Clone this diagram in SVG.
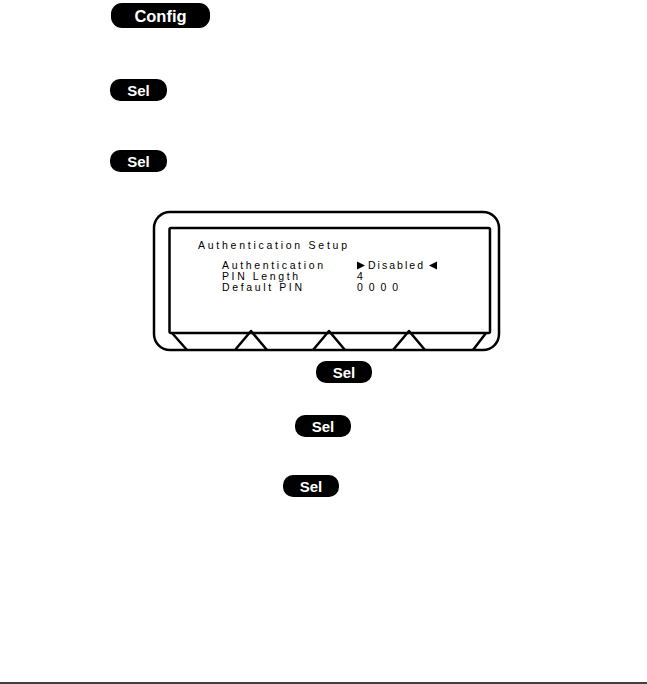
<svg xmlns="http://www.w3.org/2000/svg" width="647" height="684" viewBox="0 0 647 684">
<style>
.btn{fill:#000}
.bt{fill:#fff;font-family:"Liberation Sans",Arial,sans-serif;font-weight:bold;text-anchor:middle}
.ln{fill:none;stroke:#000;stroke-width:2.5;stroke-linejoin:round}
.tx{fill:#000;font-family:"Liberation Sans",Arial,sans-serif;font-size:10.5px}
</style>
<rect width="647" height="684" fill="#fff"/>
<g id="btn-config"><rect class="btn" x="111" y="3" width="99" height="25" rx="11"/><text class="bt" x="160.5" y="21.5" font-size="16.5">Config</text></g>
<g id="btn-sel1"><rect class="btn" x="110" y="79" width="57" height="22" rx="10"/><text class="bt" x="138.5" y="95.5" font-size="15">Sel</text></g>
<g id="btn-sel2"><rect class="btn" x="110" y="150" width="57" height="22" rx="10"/><text class="bt" x="138.5" y="166.5" font-size="15">Sel</text></g>
<g id="screen">
<rect class="ln" x="154" y="212" width="345" height="138" rx="16"/>
<rect class="ln" x="169.5" y="228" width="320.5" height="105" rx="1.5"/>
<path class="ln" d="M172,333 L187,350 M486,333 L473,350 M235,350 L251,331 L267,350 M313,350 L329,331 L345,350 M393,350 L409,331 L425,350"/>
<text class="tx" x="198" y="249" textLength="149" lengthAdjust="spacing">Authentication Setup</text>
<text class="tx" x="222" y="269" textLength="101" lengthAdjust="spacing">Authentication</text>
<text class="tx" x="222" y="280" textLength="76" lengthAdjust="spacing">PIN Length</text>
<text class="tx" x="222" y="291" textLength="80" lengthAdjust="spacing">Default PIN</text>
<path d="M357,261.5 L365,265.5 L357,269.5 Z" fill="#000"/>
<text class="tx" x="368" y="269" textLength="55" lengthAdjust="spacing">Disabled</text>
<path d="M437,261.5 L429,265.5 L437,269.5 Z" fill="#000"/>
<text class="tx" x="357" y="280">4</text>
<text class="tx" x="357" y="291" textLength="41" lengthAdjust="spacing">0000</text>
</g>
<g id="btn-sel3"><rect class="btn" x="316" y="361" width="56" height="22" rx="10"/><text class="bt" x="344" y="377.5" font-size="15">Sel</text></g>
<g id="btn-sel4"><rect class="btn" x="295" y="415" width="56" height="22" rx="10"/><text class="bt" x="323" y="431.5" font-size="15">Sel</text></g>
<g id="btn-sel5"><rect class="btn" x="283" y="475" width="56" height="22" rx="10"/><text class="bt" x="311" y="491.5" font-size="15">Sel</text></g>
<g id="connectors"></g>
<line x1="0" y1="683" x2="647" y2="683" stroke="#000" stroke-width="1.5"/>
</svg>
